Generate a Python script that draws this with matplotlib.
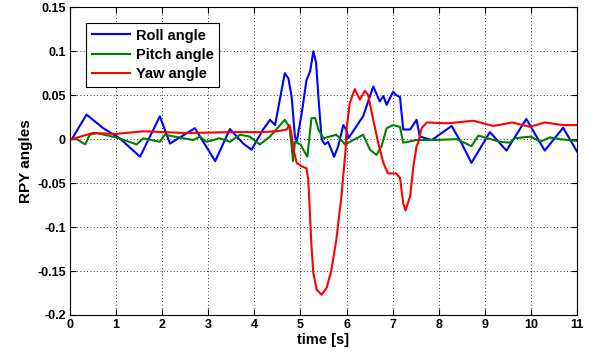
import matplotlib.pyplot as plt
from matplotlib.ticker import FixedLocator

# values
roll_t = [0.0, 0.04, 0.36, 0.72, 1.08, 1.52, 1.95, 2.17, 2.71, 3.15, 3.47, 3.76, 3.94, 4.19,
          4.34, 4.45, 4.66, 4.74, 4.81, 4.88, 4.92, 5.03, 5.13, 5.21, 5.28, 5.34, 5.39,
          5.46, 5.53, 5.6, 5.73, 5.82, 5.93, 6.0, 6.04, 6.36, 6.58, 6.72, 6.8, 6.87,
          7.01, 7.08, 7.16, 7.23, 7.38, 7.52, 7.59, 7.85, 8.28, 8.5, 8.71, 9.11, 9.47,
          9.9, 10.3, 10.7, 11.0]
roll_v = [0.0, 0.0, 0.028, 0.0125, 0.001, -0.02, 0.026, -0.005, 0.0125, -0.025, 0.0115,
          -0.005, -0.012, 0.011, 0.022, 0.016, 0.075, 0.069, 0.048, 0.003, -0.003, 0.03,
          0.067, 0.077, 0.1, 0.087, 0.048, 0.0, -0.006, -0.003, -0.02, -0.008, 0.016,
          0.01, 0.001, 0.026, 0.06, 0.043, 0.049, 0.039, 0.054, 0.05, 0.048, 0.011, 0.011,
          0.022, 0.003, -0.001, 0.015, -0.005, -0.027, 0.008, -0.013, 0.023, -0.013,
          0.013, -0.014]

pitch_t = [0.0, 0.15, 0.33, 0.43, 0.58, 1.0, 1.45, 1.59, 1.95, 2.06, 2.67, 2.82, 2.96,
           3.25, 3.47, 3.69, 3.9, 4.12, 4.34, 4.66, 4.76, 4.81, 4.84, 4.88, 5.0, 5.15,
           5.24, 5.32, 5.39, 5.5, 5.64, 5.78, 5.97, 6.36, 6.51, 6.65, 6.76, 6.87, 7.01,
           7.16, 7.23, 7.52, 7.88, 8.39, 8.71, 8.86, 9.33, 9.54, 9.65, 10.0, 10.2, 10.41,
           10.63, 11.0]
pitch_v = [0.0, 0.0, -0.006, 0.005, 0.007, 0.002, -0.006, 0.001, -0.003, 0.005, -0.001,
           0.003, -0.003, 0.001, -0.003, 0.005, 0.003, -0.006, 0.003, 0.022, 0.014,
           -0.008, -0.025, -0.003, -0.006, -0.02, 0.024, 0.024, 0.011, 0.001, 0.003,
           0.005, -0.006, 0.005, -0.012, -0.018, -0.008, 0.0125, 0.016, 0.014, -0.004,
           -0.001, -0.001, 0.0, -0.008, 0.004, -0.003, -0.004, 0.001, 0.003, -0.003,
           0.002, 0.0, -0.002]

yaw_t = [0.0, 0.1, 0.5, 1.0, 1.6, 2.5, 3.5, 4.12, 4.5, 4.7, 4.76, 4.8, 4.85, 4.92, 5.03,
         5.13, 5.17, 5.24, 5.28, 5.35, 5.46, 5.57, 5.67, 5.78, 5.89, 5.98, 6.0, 6.07,
         6.18, 6.29, 6.4, 6.47, 6.58, 6.69, 6.8, 6.9, 7.08, 7.16, 7.23, 7.28, 7.38, 7.45,
         7.52, 7.56, 7.63, 7.74, 8.2, 8.75, 9.18, 9.6, 9.98, 10.3, 10.7, 11.0]
yaw_v = [0.0, 0.001, 0.007, 0.006, 0.009, 0.007, 0.008, 0.008, 0.009, 0.011, 0.016, 0.008,
         -0.012, -0.027, -0.031, -0.033, -0.046, -0.122, -0.152, -0.171, -0.177, -0.169,
         -0.149, -0.114, -0.065, -0.012, 0.011, 0.041, 0.057, 0.045, 0.055, 0.05, 0.022,
         -0.005, -0.027, -0.039, -0.039, -0.044, -0.073, -0.081, -0.065, -0.031, -0.008,
         -0.003, 0.0125, 0.019, 0.018, 0.021, 0.015, 0.019, 0.014, 0.019, 0.016, 0.016]

x_ticks = list(range(0, 12))
y_ticks = [-0.2, -0.15, -0.1, -0.05, 0, 0.05, 0.1, 0.15]
y_labels = ["-0.2", "-0.15", "-0.1", "-0.05", "0", "0.05", "0.1", "0.15"]

plt.rcParams["font.family"] = ["Liberation Sans", "DejaVu Sans"]
plt.rcParams["font.weight"] = "bold"

fig = plt.figure(figsize=(5.96, 3.56), dpi=100)
ax = fig.add_axes([0.1174, 0.1152, 0.8507, 0.8643])

ax.plot(roll_t, roll_v, color="#0000ff", lw=1.5, label="Roll angle")
ax.plot(pitch_t, pitch_v, color="#008000", lw=1.5, label="Pitch angle")
ax.plot(yaw_t, yaw_v, color="#ff0000", lw=1.5, label="Yaw angle")

ax.set_xlim(0, 11)
ax.set_ylim(-0.2, 0.15)
ax.xaxis.set_major_locator(FixedLocator(x_ticks))
ax.set_xticklabels([str(t) for t in x_ticks], fontsize=9, fontweight="bold")
ax.yaxis.set_major_locator(FixedLocator(y_ticks))
ax.set_yticklabels(y_labels, fontsize=9, fontweight="bold")
ax.tick_params(direction="in", top=True, right=True, length=4, width=0.8, pad=3)
ax.grid(True, linestyle=(0, (1, 3)), color="black", linewidth=0.6)
for s in ax.spines.values():
    s.set_linewidth(0.8)

ax.set_xlabel("time [s]", fontsize=10.5, fontweight="bold", labelpad=1)
ax.set_ylabel("RPY angles", fontsize=11, fontweight="bold", labelpad=3)

leg = ax.legend(loc="upper left", bbox_to_anchor=(0.032, 0.95), borderaxespad=0,
                fancybox=False, framealpha=1, edgecolor="black", handlelength=2.6,
                prop={"size": 10.5, "weight": "bold"}, labelspacing=0.35,
                borderpad=0.4, handletextpad=0.4)
leg.get_frame().set_linewidth(0.8)

fig.savefig("out.png", dpi=100)
